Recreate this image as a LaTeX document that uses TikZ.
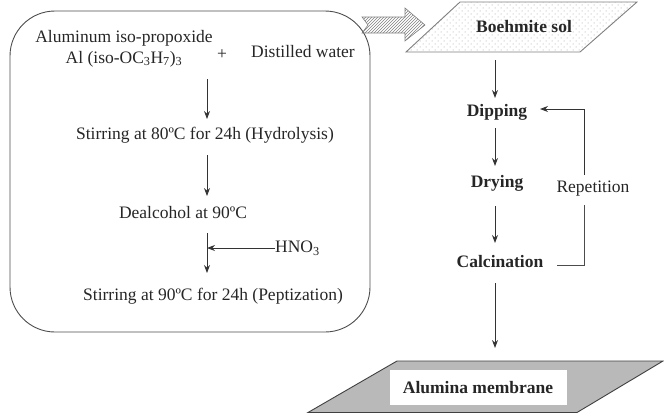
\documentclass[tikz,border=0pt]{standalone}
\usepackage{fontspec}
\setmainfont{Liberation Serif}
\usetikzlibrary{patterns,arrows.meta,calc}
\pgfdeclarepatternformonly{sparsedots}{\pgfpoint{-1pt}{-1pt}}{\pgfpoint{6pt}{6pt}}{\pgfpoint{6pt}{6pt}}{%
  \pgfpathcircle{\pgfpoint{0pt}{0pt}}{0.5pt}
  \pgfpathcircle{\pgfpoint{3pt}{3pt}}{0.5pt}
  \pgfusepath{fill}}
\begin{document}
\begin{tikzpicture}[x=1pt,y=-1pt,
  txt/.style={font=\fontsize{17.5}{19}\selectfont, inner sep=0pt, text=black!85},
  btxt/.style={font=\fontsize{17.5}{19}\selectfont\bfseries, inner sep=0pt, text=black!85},
  arr/.style={draw=black!80, line width=0.9pt, -{Stealth[length=8pt,width=6pt]}},
  ln/.style={draw=black!70, line width=0.9pt}]
\useasboundingbox (0,0) rectangle (664,413);
% left rounded box
\draw[black!70, line width=0.9pt, rounded corners=45pt] (10,11) rectangle (370,332);
% hatched arrow
\draw[gray, line width=0.6pt, pattern=north east lines, pattern color=gray]
  (362,17) -- (405,17) -- (405,8) -- (425,25) -- (405,41) -- (405,33) -- (362,33) -- (368,25) -- cycle;
% Boehmite sol parallelogram
\fill[white] (460,2) -- (637,2) -- (580,52) -- (406,52) -- cycle;
\draw[gray, line width=0.9pt, pattern=sparsedots, pattern color=gray!80]
  (460,2) -- (637,2) -- (580,52) -- (406,52) -- cycle;
% membrane parallelogram
\draw[black!75, line width=0.9pt, fill=gray!55]
  (397,361) -- (663,361) -- (577,412.5) -- (308,412.5) -- cycle;
\fill[white] (390,370) rectangle (567,405);
% left texts
\node[txt] (alu) at (124,38) {Aluminum iso-propoxide};
\node[txt] (alf) at (124,59) {Al (iso-OC\textsubscript{3}H\textsubscript{7})\textsubscript{3}};
\node[txt] (plus) at (222,55) {+};
\node[txt] (water) at (303,52) {Distilled water};
\node[txt] (s1) at (205,135) {Stirring at 80ºC for 24h (Hydrolysis)};
\node[txt] (deal) at (183,213) {Dealcohol at 90ºC};
\node[txt, anchor=west] (hno) at (275,248) {HNO\textsubscript{3}};
\node[txt] (s2) at (213,296) {Stirring at 90ºC for 24h (Peptization)};
% right texts
\node[btxt] (boeh) at (524,27) {Boehmite sol};
\node[btxt] (dip) at (497,112) {Dipping};
\node[btxt] (dry) at (497,183) {Drying};
\node[btxt] (cal) at (500,262) {Calcination};
\node[txt] (rep) at (593,189) {Repetition};
\node[btxt] (mem) at (478,388) {Alumina membrane};
% left arrows
\coordinate (l1a) at (207,79);  \coordinate (l1b) at (207,119);
\coordinate (l2a) at (207,155); \coordinate (l2b) at (207,196);
\coordinate (l3a) at (207,233); \coordinate (l3b) at (207,273);
\coordinate (hj) at (207,248);
\draw[arr] (l1a) -- (l1b);
\draw[arr] (l2a) -- (l2b);
\draw[arr] (l3a) -- (l3b);
\draw[arr] (hno.west) -- (hj);
% right arrows
\coordinate (r1a) at (495,60);  \coordinate (r1b) at (495,98);
\coordinate (r2a) at (495,128); \coordinate (r2b) at (495,166);
\coordinate (r3a) at (495,206); \coordinate (r3b) at (495,243);
\coordinate (r4a) at (495,283); \coordinate (r4b) at (495,348);
\draw[arr] (r1a) -- (r1b);
\draw[arr] (r2a) -- (r2b);
\draw[arr] (r3a) -- (r3b);
\draw[arr] (r4a) -- (r4b);
% repetition loop
\coordinate (fb1) at (557,265);
\coordinate (fb2) at (584,265);
\coordinate (fb3) at (584,205);
\coordinate (fb4) at (584,175);
\coordinate (fb5) at (584,109);
\coordinate (fb6) at (540,109);
\draw[ln] (fb1) -- (fb2) -- (fb3);
\draw[arr] (fb4) -- (fb5) -- (fb6);
\end{tikzpicture}
\end{document}
